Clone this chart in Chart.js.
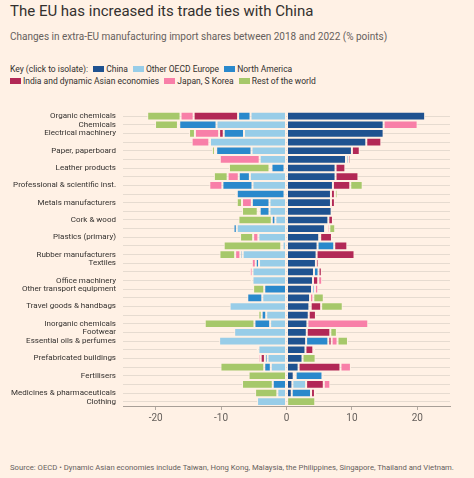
<!DOCTYPE html>
<html>
<head>
<meta charset="utf-8">
<script src="https://cdn.jsdelivr.net/npm/chart.js@4/dist/chart.umd.min.js"></script>
<style>
  html, body { margin: 0; padding: 0; }
  body {
    width: 474px; height: 478px; position: relative; overflow: hidden;
    background: #fff1e5; font-family: Roboto, "Noto Sans", sans-serif; color: #33302e;
  }
  .title { position: absolute; left: 10px; top: 2px; font-size: 15px; }
  .subtitle { position: absolute; left: 10px; top: 31px; font-size: 10px; color: #66605c; }
  .key { position: absolute; left: 10px; font-size: 8.5px; color: #33302e; white-space: nowrap; }
  .key span.sw { display: inline-block; width: 11px; height: 6px; margin: 0 2px 0 3px; vertical-align: 0px; }
  .source { position: absolute; left: 10px; top: 463px; font-size: 7.7px; color: #66605c; white-space: nowrap; }
  #wrap { position: absolute; left: 0; top: 100px; width: 474px; height: 330px; }
</style>
</head>
<body>
<div class="title">The EU has increased its trade ties with China</div>
<div class="subtitle">Changes in extra-EU manufacturing import shares between 2018 and 2022 (% points)</div>
<div class="key" id="key1" style="top:64px"></div>
<div class="key" id="key2" style="top:76px"></div>
<div id="wrap"><canvas id="chart"></canvas></div>
<div class="source">Source: OECD • Dynamic Asian economies include Taiwan, Hong Kong, Malaysia, the Philippines, Singapore, Thailand and Vietnam.</div>
<script>
const CATEGORIES = [
    'Organic chemicals', 'Chemicals', 'Electrical machinery', '', 'Paper, paperboard', '',
    'Leather products', '', 'Professional & scientific inst.', '', 'Metals manufacturers', '',
    'Cork & wood', '', 'Plastics (primary)', '', 'Rubber manufacturers', 'Textiles', '',
    'Office machinery', 'Other transport equipment', '', 'Travel goods & handbags', '',
    'Inorganic chemicals', 'Footwear', 'Essential oils & perfumes', '', 'Prefabricated buildings', '',
    'Fertilisers', '', 'Medicines & pharmaceuticals', 'Clothing'
];

const SERIES_NAMES = ['China', 'Other OECD Europe', 'North America',
    'India and dynamic Asian economies', 'Japan, S Korea', 'Rest of the world'];
const SERIES_COLORS = ['#1f5290', '#98cde8', '#2a89cc', '#b22856', '#f87fa8', '#a6c86a'];

const CHINA = [21.2, 14.85, 14.85, 12.2, 10.0, 9.1, 7.5, 7.5, 7.1, 6.8, 6.8, 6.9, 6.4, 5.9, 5.0, 4.75, 4.6,
    4.5, 4.2, 4.05, 3.9, 3.6, 3.5, 3.4, 3.2, 3.1, 3.0, 2.9, 2.45, 1.85, 1.1, 0.9, 0.8, 0.1];
const OTHER_OECD = [-5.5, -10.7, -6.5, -11.7, -5.35, -4.1, -0.3, -5.6, -5.2, -0.3, -2.6, -2.6, -1.7, -7.6, -4.3, -0.6, -6.7,
    -4.2, -5.2, -5.2, 0.45, -3.7, -8.7, -3.1, -2.5, -8.0, -10.3, -4.3, -2.9, -2.4, 0.3, 2.1, -1.4, -4.5];
const NORTH_AMERICA = [-1.9, -5.7, -3.1, -0.1, -5.4, 0.35, -2.0, -1.7, -4.6, -7.3, -2.7, -1.5, -0.55, -0.5, 0.15, 2.55, -0.35,
    -0.5, 0.7, 0, -3.4, -2.3, 0.2, -0.7, -2.4, 0, 3.4, 0, -0.4, -1.0, 4.1, -2.1, 2.95, 0];
const INDIA_ASIA = [-6.8, -0.2, -0.7, 2.3, 1.2, 0.35, 1.5, 3.5, 2.65, 0.6, 0.6, 0, 0.7, 0.3, 1.8, 2.0, 5.8,
    0.4, 0.5, 0.8, 0, 0, 1.6, 1.1, 0, 3.6, 0.5, 1.2, -0.65, 6.4, 0, 2.7, 0.6, 0];
const JAPAN_KOREA = [-2.0, 5.2, -3.7, -2.7, -0.2, -6.1, -0.3, -1.7, -2.0, -0.3, -1.5, -0.3, 0, 0.35, -0.8, -0.2, -0.8,
    -0.6, -0.4, 0.6, 0.5, 0.5, 0, 0, 9.3, 0, 0.9, -0.3, -0.35, 1.6, 0.2, 1.0, 0.2, 0];
const REST_OF_WORLD = [-5.1, -3.5, -0.9, 0, -0.45, 0, -6.2, -2.1, 1.9, 0.4, -0.8, -2.4, -5.1, 0.9, -2.0, -8.8, -2.4,
    0.2, 0, -0.3, -1.7, 1.6, 3.3, -0.5, -7.6, 1.0, 1.6, 0.3, 2.0, -6.7, -5.8, -4.7, -3.4, 4.3];

const X_TICKS = [-20, -10, 0, 10, 20];

const BG = '#fff1e5';

// legend rows
function keyItem(i) {
    return `<span class="sw" style="background:${SERIES_COLORS[i]}"></span>${SERIES_NAMES[i]} `;
}
document.getElementById('key1').innerHTML = 'Key (click to isolate): ' + [0, 1, 2].map(keyItem).join(' ');
document.getElementById('key2').innerHTML = [3, 4, 5].map(keyItem).join(' ').replace(/^<span class="sw" style="/, '<span class="sw" style="margin-left:0;');

const allSeries = [CHINA, OTHER_OECD, NORTH_AMERICA, INDIA_ASIA, JAPAN_KOREA, REST_OF_WORLD];

new Chart(document.getElementById('chart').getContext('2d'), {
    type: 'bar',
    data: {
        labels: CATEGORIES,
        datasets: allSeries.map((values, i) => ({
            label: SERIES_NAMES[i],
            data: values,
            backgroundColor: SERIES_COLORS[i],
            borderColor: BG,
            borderWidth: 1,
            borderSkipped: false,
            inflateAmount: 0,
            barPercentage: 1,
            categoryPercentage: 1
        }))
    },
    options: {
        indexAxis: 'y',
        responsive: true,
        maintainAspectRatio: false,
        animation: false,
        devicePixelRatio: 1,
        layout: { padding: { top: 9, right: 24, left: 0, bottom: 0 } },
        scales: {
            x: {
                type: 'linear',
                stacked: true,
                min: -25,
                max: 25,
                afterBuildTicks: (scale) => { scale.ticks = X_TICKS.map(v => ({ value: v })); },
                afterFit: (scale) => { scale.height = 24; },
                grid: { drawOnChartArea: false, drawTicks: true, tickLength: 4, color: '#b3aaa2' },
                border: { display: true, color: '#a89f97' },
                ticks: { color: '#66605c', font: { size: 10, family: 'Roboto' }, padding: 2 }
            },
            y: {
                stacked: true,
                afterFit: (scale) => { scale.width = 123; },
                grid: { offset: false, drawTicks: false, color: '#e6dbd0' },
                border: { display: false },
                ticks: { autoSkip: false, color: '#33302e', font: { size: 8, family: 'Roboto' }, padding: 7 }
            }
        },
        plugins: {
            legend: { display: false },
            tooltip: { enabled: false }
        }
    }
});
</script>
</body>
</html>
